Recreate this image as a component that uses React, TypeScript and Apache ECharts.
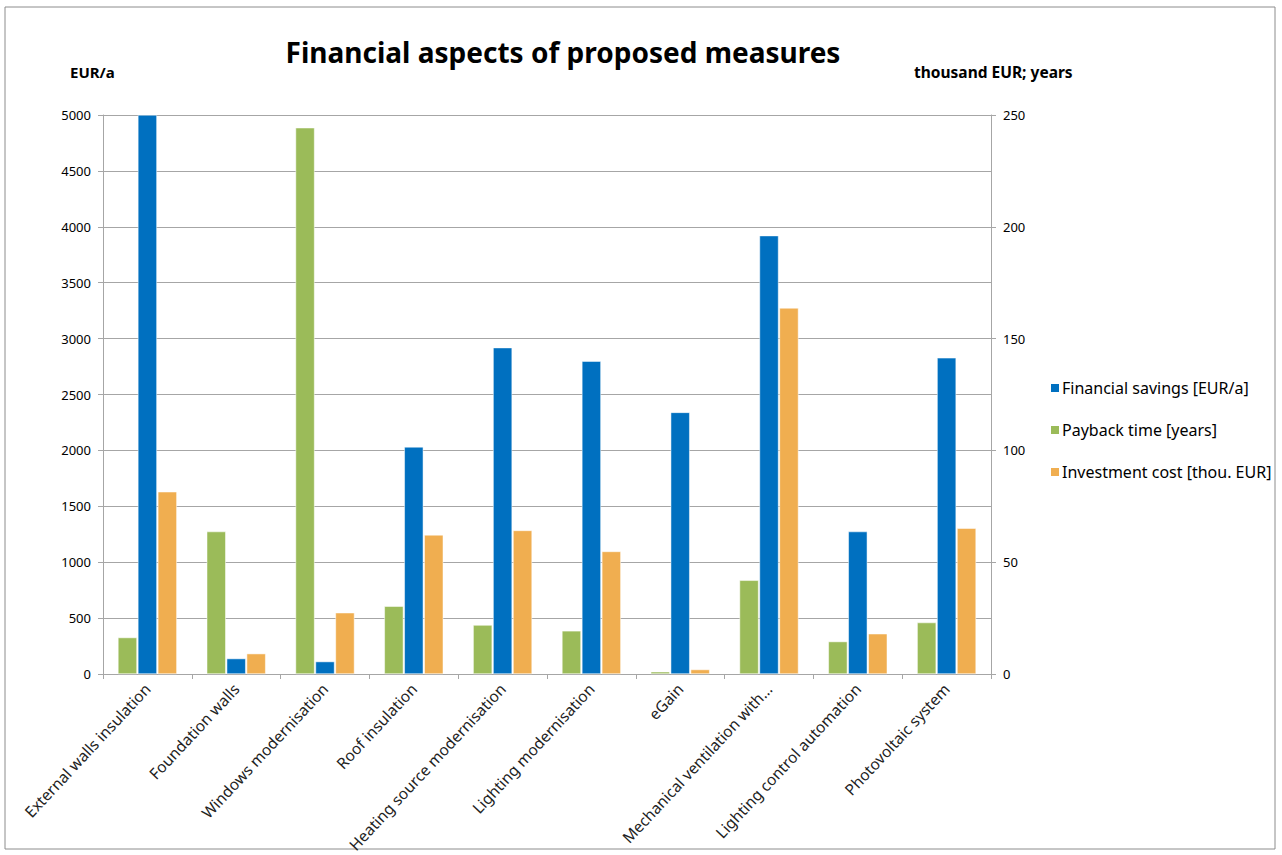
import React, { useEffect, useRef } from "react";
import * as echarts from "echarts";

const categories = [
  "External walls insulation",
  "Foundation walls",
  "Windows modernisation",
  "Roof insulation",
  "Heating source modernisation",
  "Lighting modernisation",
  "eGain",
  "Mechanical ventilation with...",
  "Lighting control automation",
  "Photovoltaic system",
];
const financialSavings = [5000, 138, 111, 2031, 2919, 2798, 2340, 3921, 1274, 2828];
const paybackTime = [16.3, 63.7, 244.3, 30.3, 21.9, 19.3, 1.0, 41.9, 14.5, 23.0];
const investmentCost = [81.5, 9.1, 27.4, 62.2, 64.2, 54.8, 2.0, 163.7, 18.0, 65.2];

const FONT = "'Noto Sans', 'DejaVu Sans', sans-serif";

export default function App() {
  const ref = useRef<HTMLDivElement>(null);
  useEffect(() => {
    if (!ref.current) return;
    const chart = echarts.init(ref.current, undefined, { renderer: "svg" });
    const gridColor = "#a6a6a6";
    chart.setOption({
      animation: false,
      backgroundColor: "#ffffff",
      textStyle: { fontFamily: FONT },
      title: {
        text: "Financial aspects of proposed measures",
        left: 558,
        top: 33,
        textAlign: "center",
        textStyle: { fontFamily: FONT, fontSize: 28, fontWeight: "bold", color: "#000" },
      },
      graphic: [
        {
          type: "rect",
          shape: { x: 5, y: 7, width: 1270, height: 842 },
          style: { fill: "none", stroke: "#8c8c8c", lineWidth: 1 },
          silent: true,
        },
        {
          type: "text",
          x: 70,
          y: 64,
          style: { text: "EUR/a", font: `bold 15px ${FONT}`, fill: "#000" },
        },
        {
          type: "text",
          x: 914,
          y: 64,
          style: { text: "thousand EUR; years", font: `bold 15.5px ${FONT}`, fill: "#000" },
        },
      ],
      legend: {
        orient: "vertical",
        left: 1044,
        top: 375,
        itemGap: 26,
        itemWidth: 10,
        itemHeight: 10,
        icon: "rect",
        textStyle: { fontFamily: FONT, fontSize: 16, color: "#000", padding: [0, 0, 0, -3] },
        data: ["Financial savings [EUR/a]", "Payback time [years]", "Investment cost [thou. EUR]"],
      },
      grid: {
        left: 103,
        right: 291,
        top: 115,
        bottom: 181,
        containLabel: false,
        outerBoundsMode: "none",
      },
      xAxis: {
        type: "category",
        data: categories,
        axisLine: { show: true, lineStyle: { color: gridColor } },
        axisTick: { show: true, alignWithLabel: false, length: 5, lineStyle: { color: gridColor } },
        axisLabel: {
          rotate: 47,
          interval: 0,
          margin: 12,
          fontSize: 15.5,
          color: "#222",
          fontFamily: FONT,
        },
      },
      yAxis: [
        {
          type: "value",
          min: 0,
          max: 5000,
          interval: 500,
          position: "left",
          axisLine: { show: true, lineStyle: { color: gridColor } },
          axisTick: { show: true, length: 5, lineStyle: { color: gridColor } },
          axisLabel: {
            fontSize: 13,
            color: "#000",
            margin: 12,
            fontFamily: FONT,
            formatter: (v: number) => String(v),
          },
          splitLine: { show: true, lineStyle: { color: gridColor, width: 1 } },
        },
        {
          type: "value",
          min: 0,
          max: 250,
          interval: 50,
          position: "right",
          axisLine: { show: true, lineStyle: { color: gridColor } },
          axisTick: { show: true, length: 5, lineStyle: { color: gridColor } },
          axisLabel: {
            fontSize: 13,
            color: "#000",
            margin: 12,
            fontFamily: FONT,
            formatter: (v: number) => String(v),
          },
          splitLine: { show: false },
        },
      ],
      series: [
        {
          name: "Payback time [years]",
          type: "bar",
          yAxisIndex: 1,
          data: paybackTime,
          barWidth: 19,
          barGap: "5%",
          itemStyle: { color: "#9BBB59", borderColor: "#ffffff", borderWidth: 0.5 },
        },
        {
          name: "Financial savings [EUR/a]",
          type: "bar",
          yAxisIndex: 0,
          data: financialSavings,
          barWidth: 19,
          barGap: "5%",
          itemStyle: { color: "#0070C0", borderColor: "#ffffff", borderWidth: 0.5 },
        },
        {
          name: "Investment cost [thou. EUR]",
          type: "bar",
          yAxisIndex: 1,
          data: investmentCost,
          barWidth: 19,
          barGap: "5%",
          itemStyle: { color: "#F0AE50", borderColor: "#ffffff", borderWidth: 0.5 },
        },
      ],
    });
    return () => chart.dispose();
  }, []);
  return (
    <div
      ref={ref}
      style={{ position: "fixed", left: 0, top: 0, width: 1282, height: 855 }}
    />
  );
}
